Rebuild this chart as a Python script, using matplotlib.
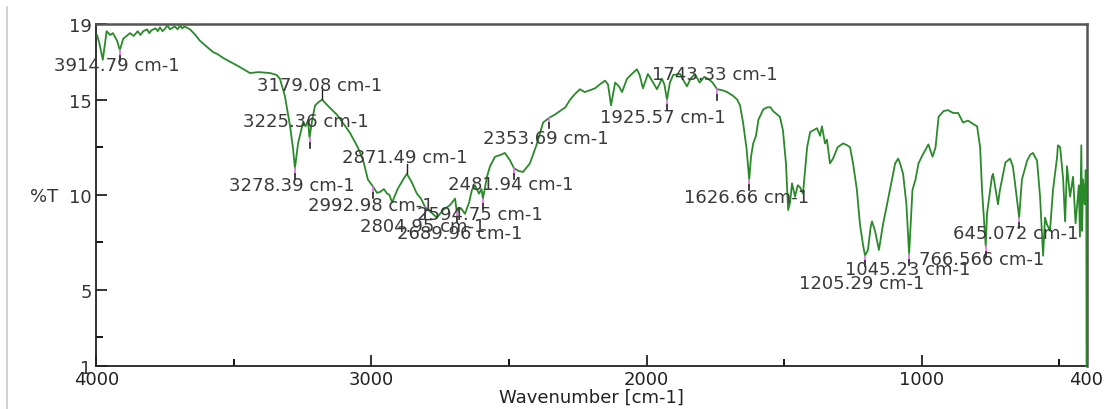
import numpy as np
import matplotlib.pyplot as plt
from matplotlib.lines import Line2D

# IR spectrum (wavenumber cm-1, %T)
wavenumber = [3998, 3990, 3977, 3963, 3950, 3940, 3925, 3914.79, 3903, 3878, 3865, 3850, 3840, 3830,
              3816, 3808, 3800, 3785, 3777, 3769, 3760, 3750, 3742, 3733, 3715, 3705, 3696, 3688, 3680, 3660, 3640, 3624,
              3600, 3576, 3560, 3540, 3515, 3489, 3465, 3442, 3410, 3369, 3345, 3333,
              3315, 3296, 3285, 3278.39, 3267, 3249, 3240, 3231, 3225.36, 3215, 3205,
              3190, 3179.08, 3160, 3125, 3100, 3078, 3050, 3031, 3013, 2992.98, 2980,
              2969, 2955, 2943, 2935, 2925, 2905, 2885, 2871.49, 2855, 2835, 2820,
              2804.95, 2785, 2762, 2740, 2715, 2696, 2689.96, 2675, 2660, 2645, 2635,
              2624, 2609, 2600, 2594.75, 2580, 2569, 2551, 2530, 2515, 2496, 2481.94,
              2465, 2449, 2424, 2398, 2376, 2353.69, 2335, 2315, 2295, 2278, 2260, 2242,
              2225, 2205, 2187, 2170, 2151, 2140, 2129, 2114, 2100, 2089, 2071, 2050,
              2035, 2025, 2013, 1995, 1980, 1962, 1944, 1935, 1925.57, 1915, 1903, 1878,
              1865, 1853, 1840, 1824, 1807, 1790, 1776, 1760, 1743.33, 1725, 1707, 1685,
              1670, 1660, 1649, 1636, 1626.66, 1620, 1612, 1602, 1593, 1575, 1560, 1549,
              1540, 1515, 1504, 1493, 1485, 1478, 1471, 1460, 1450, 1442, 1431, 1416,
              1405, 1392, 1380, 1369, 1362, 1351, 1344, 1333, 1322, 1305, 1285, 1270,
              1260, 1249, 1235, 1224, 1212, 1205.29, 1195, 1185, 1180, 1169, 1155, 1140,
              1115, 1096, 1085, 1078, 1067, 1055, 1045.23, 1033, 1022, 1011, 996, 975,
              960, 949, 938, 920, 904, 885, 867, 849, 831, 810, 798, 787, 780, 772,
              766.566, 762, 744, 740, 722, 715, 695, 678, 668, 660, 645.072, 635, 616,
              605, 595, 580, 569, 558, 551, 544, 533, 522, 507, 504, 496, 485, 478, 471,
              460, 449, 440, 435, 428, 424, 419, 416, 413, 407, 403, 401, 400]
transmittance = [18.4, 18.0, 17.1, 18.6, 18.4, 18.5, 18.1, 17.6, 18.2, 18.5, 18.35, 18.6, 18.4, 18.6,
                 18.7, 18.5, 18.65, 18.75, 18.6, 18.8, 18.6, 18.75, 18.9, 18.7, 18.85, 18.7, 18.9, 18.75, 18.85, 18.7, 18.4, 18.1,
                 17.8, 17.5, 17.4, 17.2, 17.0, 16.8, 16.6, 16.4, 16.45, 16.4, 16.3, 16.1,
                 15.2, 13.6, 12.4, 11.4, 12.7, 13.8, 13.6, 13.9, 13.0, 14.0, 14.7,
                 14.9, 15.0, 14.7, 14.2, 13.7, 13.25, 12.5, 11.85, 10.8, 10.4, 10.1,
                 10.15, 10.3, 10.06, 10.0, 9.6, 10.3, 10.8, 11.1, 10.7, 10.06, 9.8,
                 9.35, 9.1, 8.8, 9.2, 9.45, 9.8, 9.1, 9.3, 9.0, 9.6, 10.25,
                 10.5, 10.06, 10.3, 9.8, 10.95, 11.5, 12.0, 12.1, 12.2, 11.8, 11.4,
                 11.25, 11.2, 11.65, 12.7, 13.8, 14.05, 14.2, 14.4, 14.6, 15.0, 15.3, 15.55,
                 15.4, 15.5, 15.6, 15.8, 16.0, 15.8, 14.7, 15.9, 15.7, 15.4, 16.1, 16.4,
                 16.6, 16.3, 15.6, 16.35, 16.0, 15.55, 16.1, 15.8, 15.0, 15.9, 16.3, 16.35,
                 16.0, 15.7, 16.1, 16.35, 15.9, 16.2, 16.1, 15.9, 15.55, 15.5, 15.4, 15.2,
                 15.0, 14.7, 13.8, 12.4, 10.8, 12.0, 12.7, 13.1, 13.95, 14.5, 14.6, 14.6,
                 14.4, 14.1, 13.4, 11.65, 9.2, 9.6, 10.6, 9.9, 10.5, 10.4, 10.06, 12.5,
                 13.3, 13.4, 13.5, 13.1, 13.6, 12.7, 12.9, 11.65, 11.9, 12.5, 12.7, 12.6,
                 12.5, 11.65, 10.25, 8.45, 7.3, 6.8, 7.1, 8.3, 8.6, 8.1, 7.1, 8.45,
                 10.25, 11.65, 11.9, 11.65, 11.1, 9.5, 6.87, 10.25, 10.8, 11.65, 12.1, 12.65,
                 12.0, 12.5, 14.1, 14.4, 14.45, 14.3, 14.3, 13.8, 13.9, 13.7, 13.6, 12.5, 10.25, 8.5,
                 7.3, 9.0, 10.95, 11.1, 9.5, 10.25, 11.7, 11.9, 11.5, 10.6, 8.8, 10.8, 11.8,
                 12.1, 12.2, 11.8, 9.9, 6.8, 8.8, 8.45, 8.1, 10.25, 12.0, 12.6, 12.5, 10.8, 8.6, 11.5,
                 9.9, 10.95, 8.5, 9.35, 10.5, 7.8, 12.6, 8.1, 10.8, 9.5, 11.3, 10.5, 1.0]

# labelled peaks
peak_wn = [3914.79, 3179.08, 3225.36, 3278.39, 2992.98, 2871.49, 2804.95, 2689.96,
           2594.75, 2481.94, 2353.69, 1925.57, 1743.33, 1626.66, 1205.29, 1045.23,
           766.566, 645.072]
peak_labels = ['3914.79 cm-1', '3179.08 cm-1', '3225.36 cm-1', '3278.39 cm-1',
               '2992.98 cm-1', '2871.49 cm-1', '2804.95 cm-1', '2689.96 cm-1',
               '2594.75 cm-1', '2481.94 cm-1', '2353.69 cm-1', '1925.57 cm-1',
               '1743.33 cm-1', '1626.66 cm-1', '1205.29 cm-1', '1045.23 cm-1',
               '766.566 cm-1', '645.072 cm-1']
# label offsets in pixels (dx, dy) relative to the peak point
label_off = [(-3, -15), (-3, 15), (-4, 17), (-3, -17), (-3, -18), (-2, 17), (-2, -19),
             (3, -21), (-3, -15), (-3, -16), (-3, -20), (-4, -17), (-2, 15), (-3, -17),
             (-3, -27), (-1, -15), (-4, -13), (-3, -15)]
is_max = [False, True, False, False, False, True, False, False, False, False, False,
          False, False, False, False, False, False, False]

fig = plt.figure(figsize=(11.05, 4.10), dpi=100)
ax = fig.add_axes([0.0873, 0.105, 0.8960, 0.835])

ax.plot(wavenumber, transmittance, color='#2a8a2a', lw=1.3, zorder=3, clip_on=False)

wn_sorted = np.array(wavenumber[::-1])
t_sorted = np.array(transmittance[::-1])
for wn, lab, off, mx in zip(peak_wn, peak_labels, label_off, is_max):
    t = np.interp(wn, wn_sorted, t_sorted)
    if mx:
        ax.plot([wn, wn], [t + 0.05, t + 0.5], color='#222222', lw=1, zorder=4)
    else:
        ax.plot([wn, wn], [t, t - 0.3], color='#e070e0', lw=1.2, zorder=4)
        ax.plot([wn, wn], [t - 0.3, t - 0.55], color='#222222', lw=1.2, zorder=4)
    ax.annotate(lab, (wn, t), xytext=off, textcoords='offset pixels',
                ha='center', va='center', fontsize=13, color='#3a3a3a', zorder=5)

ax.set_xlim(4000, 400)
ax.set_ylim(1, 19)
ax.set_xticks([4000, 3000, 2000, 1000, 400])
ax.set_xticks([3500, 2500, 1500, 500], minor=True)
ax.set_yticks([1, 5, 10, 15, 19])
ax.set_yticks([2.5, 7.5, 12.5], minor=True)
ax.tick_params(which='major', direction='in', length=8, width=1.3, labelsize=13,
               colors='#222222')
ax.tick_params(axis='x', which='major', pad=3)
ax.tick_params(which='minor', direction='in', length=5, width=1.3)
ax.tick_params(axis='y', labelcolor='#333333')

for s in ['left', 'bottom']:
    ax.spines[s].set_color('#222222')
    ax.spines[s].set_linewidth(1.3)
for s in ['top', 'right']:
    ax.spines[s].set_color('#555555')
    ax.spines[s].set_linewidth(1.8)

ax.set_xlabel('Wavenumber [cm-1]', fontsize=13, color='#222222', labelpad=0)
fig.text(0.040, 1 - 197 / 410, '%T', fontsize=13, color='#333333', ha='center', va='center')

# faint page border on the left
fig.add_artist(Line2D([0.0065, 0.0065], [0, 0.98], color='#c8c8c8', lw=1.2))

fig.savefig('out.png', dpi=100)
